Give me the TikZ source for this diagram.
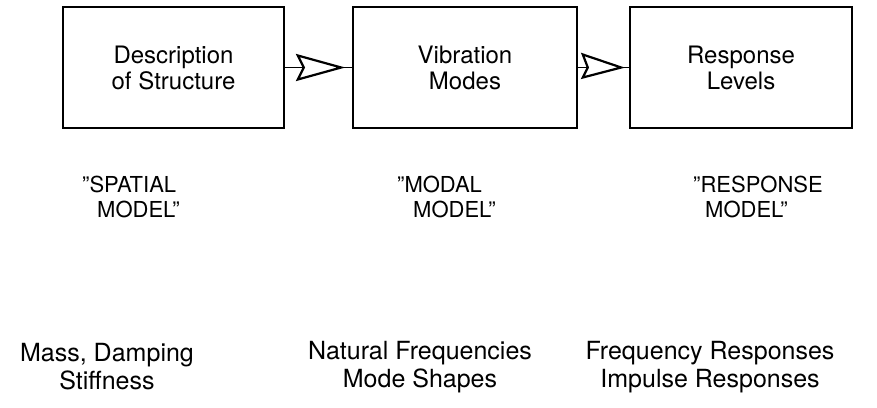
\documentclass[tikz,border=0pt]{standalone}
\usepackage{fontspec}
\setmainfont{TeX Gyre Heros}
\usetikzlibrary{calc}
\tikzset{
  blockbox/.style={draw, line width=1.6pt, minimum height=121pt, inner sep=0pt,
    align=center, font=\fontsize{24}{26}\selectfont},
  modellabel/.style={anchor=west, align=left, inner sep=0pt, font=\fontsize{22}{25.5}\selectfont},
  quantlabel/.style={align=center, inner sep=0pt, font=\fontsize{25}{28}\selectfont},
  link/.style={line width=1.6pt},
  openhead/.style={line width=2.2pt, fill=white, line join=miter}
}
\begin{document}
\begin{tikzpicture}[x=1pt, y=-1pt]
\useasboundingbox (0,0) rectangle (877,407);
\node[blockbox, minimum width=221pt] (b1) at (173.5,67.5) {Description\\of Structure};
\node[blockbox, minimum width=224pt] (b2) at (465,67.5) {Vibration\\Modes};
\node[blockbox, minimum width=222pt] (b3) at (741,67.5) {Response\\Levels};
\draw[link] (b1.east) -- (b2.west);
\draw[link] (b2.east) -- (b3.west);
\draw[openhead] ($(b1.east)+(13,-12)$) -- ($(b2.west)+(-11,0)$) -- ($(b1.east)+(13,12)$) -- ($(b1.east)+(19,0)$) -- cycle;
\draw[openhead] ($(b2.east)+(5,-13)$) -- ($(b3.west)+(-8,0)$) -- ($(b2.east)+(5,10)$) -- ($(b2.east)+(10,0)$) -- cycle;
\node[modellabel] (m1) at (82,197) {"SPATIAL\\\hspace*{15pt}MODEL"};
\node[modellabel] (m2) at (397,197) {"MODAL\\\hspace*{16pt}MODEL"};
\node[modellabel] (m3) at (693,197) {"RESPONSE\\\hspace*{12pt}MODEL"};
\node[quantlabel] (q1) at (107,367) {Mass, Damping\\Stiffness};
\node[quantlabel] (q2) at (420,367) {Natural Frequencies\\Mode Shapes};
\node[quantlabel] (q3) at (710,367) {Frequency Responses\\Impulse Responses};
\end{tikzpicture}
\end{document}
